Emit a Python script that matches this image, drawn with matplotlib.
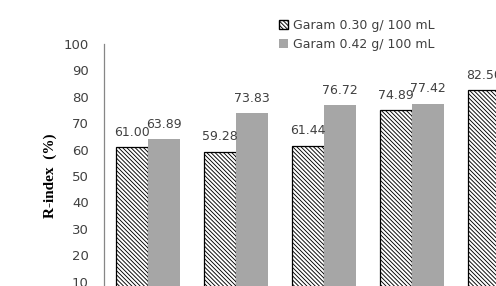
import numpy as np
import matplotlib
matplotlib.use("Agg")
from matplotlib import pyplot as plt
from matplotlib.patches import Patch

# 数据（从图上读取，第5组灰色柱子在画面外）
x_pos = np.arange(5)
garam_030 = [61.00, 59.28, 61.44, 74.89, 82.50]
garam_042 = [63.89, 73.83, 76.72, 77.42, np.nan]
labels_030 = ["61.00", "59.28", "61.44", "74.89", "82.50"]
labels_042 = ["63.89", "73.83", "76.72", "77.42", ""]
legend_labels = ["Garam 0.30 g/ 100 mL", "Garam 0.42 g/ 100 mL"]
y_ticks = [10, 20, 30, 40, 50, 60, 70, 80, 90, 100]

txt_color = "#404040"
gray = "#a6a6a6"
hatch = "\\" * 8
plt.rcParams["hatch.linewidth"] = 0.65

fig = plt.figure(figsize=(4.96, 2.86), dpi=100)
# 坐标轴超出画面（原图被裁切）
ax = fig.add_axes([104 / 496, 1 - 308 / 286, 440 / 496, 264 / 286])

w = 0.364
b1 = ax.bar(x_pos - w / 2, garam_030, w, color="white", edgecolor="black",
            hatch=hatch, linewidth=0.9)
b2 = ax.bar(x_pos + w / 2, garam_042, w, color=gray, edgecolor="none")

for rect, lab in zip(b1, labels_030):
    ax.annotate(lab, (rect.get_x() + rect.get_width() / 2, rect.get_height()),
                xytext=(0, 6), textcoords="offset points", ha="center", va="bottom",
                fontsize=9, color=txt_color, annotation_clip=False)
for rect, lab in zip(b2, labels_042):
    if lab:
        ax.annotate(lab, (rect.get_x() + rect.get_width() / 2, rect.get_height()),
                    xytext=(0, 6), textcoords="offset points", ha="center", va="bottom",
                    fontsize=9, color=txt_color, annotation_clip=False)

ax.set_xlim(-0.5, 4.5)
ax.set_ylim(0, 100)
ax.set_yticks(y_ticks)
ax.set_yticklabels([str(t) for t in y_ticks])
ax.tick_params(axis="y", length=0, pad=11, labelsize=9.5, labelcolor=txt_color)
ax.set_xticks([])
for s in ["top", "right", "bottom"]:
    ax.spines[s].set_visible(False)
ax.spines["left"].set_color("#868686")
ax.spines["left"].set_linewidth(0.9)

ax.set_ylabel("R-index  (%)", fontsize=11, fontweight="bold",
              family="Liberation Serif", labelpad=5)

handles = [Patch(facecolor="white", edgecolor="black", hatch=hatch),
           Patch(facecolor=gray, edgecolor="none")]
fig.legend(handles, legend_labels, loc="upper left",
           bbox_to_anchor=(279 / 496, 1 - 19 / 286), frameon=False, fontsize=9,
           handlelength=0.75, handleheight=0.75, handletextpad=0.4,
           labelspacing=0.5, borderpad=0, borderaxespad=0, labelcolor=txt_color)

fig.savefig("out.png", dpi=100)
